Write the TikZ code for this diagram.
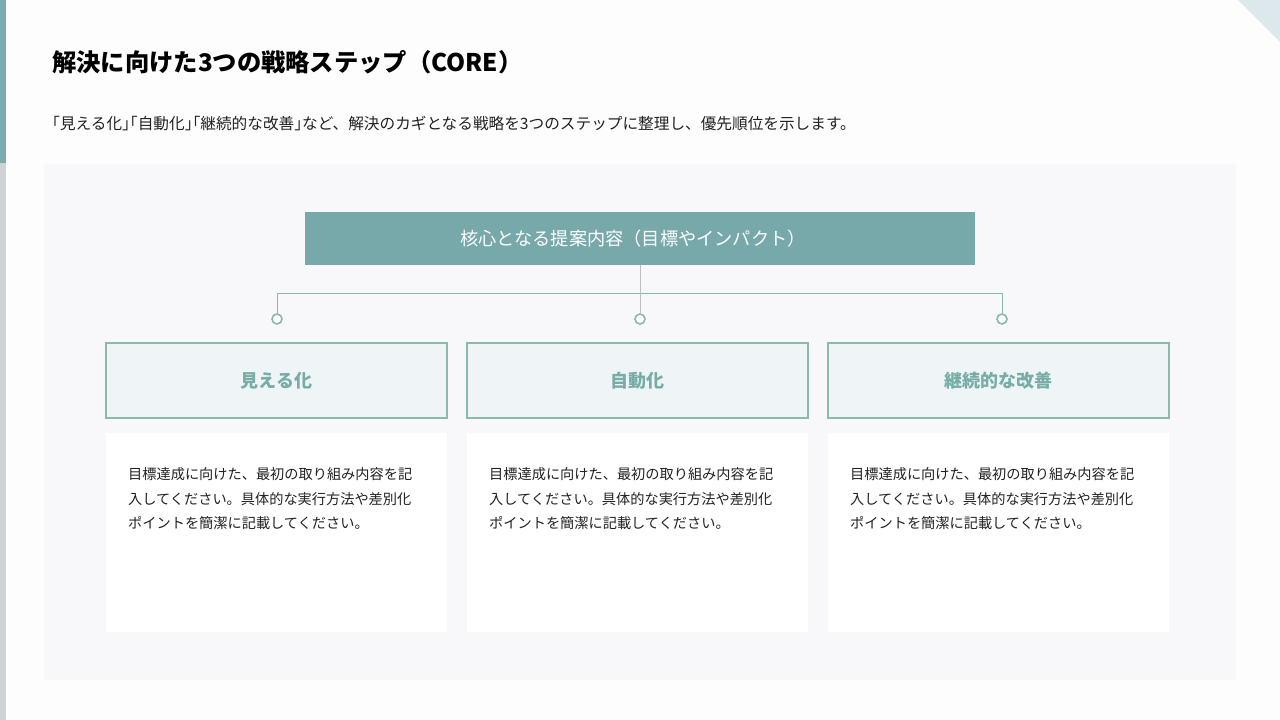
\documentclass[tikz,border=0pt]{standalone}
\usepackage{fontspec}
\setmainfont{Noto Sans CJK JP}
\newfontfamily\halffont{Noto Sans CJK JP}[RawFeature=+halt]
\newcommand{\hbr}[1]{{\halffont #1}}
\definecolor{pagebg}{HTML}{FDFDFD}
\definecolor{panelbg}{HTML}{F8F7FA}
\definecolor{barteal}{HTML}{7DA9B3}
\definecolor{bargrey}{HTML}{D0D3D6}
\definecolor{cornertri}{HTML}{DCE8EB}
\definecolor{topbox}{HTML}{77A9AB}
\definecolor{hdrline}{HTML}{8BB9AE}
\definecolor{hdrfill}{HTML}{EFF5F7}
\definecolor{hdrtext}{HTML}{78ADA7}
\definecolor{bodytext}{HTML}{222222}
\definecolor{connline}{HTML}{8AB8AC}
\definecolor{stemline}{HTML}{BBBDBF}
\tikzset{
  hdrbox/.style={draw=hdrline, line width=1.3pt, fill=hdrfill, minimum width=341pt, minimum height=75pt, inner sep=0pt,
    text=hdrtext, font=\fontsize{18pt}{21pt}\selectfont\bfseries},
  bodybox/.style={fill=white, minimum width=341pt, minimum height=199pt, inner sep=0pt},
  bodytxt/.style={anchor=north west, inner sep=0pt, align=left, text=bodytext,
    font=\fontsize{14.2pt}{24.5pt}\selectfont},
  dotc/.style={circle, draw=connline, line width=1.6pt, fill=white, minimum size=10pt, inner sep=0pt},
  conn/.style={draw=connline, line width=1pt},
}
\begin{document}
\begin{tikzpicture}[x=1pt,y=-1pt]
\useasboundingbox (0,0) rectangle (1280,720);
\fill[pagebg] (0,0) rectangle (1280,720);
% left bar
\fill[barteal] (0,0) rectangle (6,163);
\fill[bargrey] (0,163) rectangle (6,720);
% corner triangle
\fill[cornertri] (1238,0) -- (1280,0) -- (1280,42) -- cycle;
% title
\node[anchor=west, inner sep=0pt, font=\fontsize{24.3pt}{28pt}\selectfont\bfseries, text=black] (title) at (52,62) {解決に向けた3つの戦略ステップ（CORE）};
\node[anchor=west, inner sep=0pt, font=\fontsize{15.65pt}{18pt}\selectfont, text=bodytext] (subtitle) at (52,124) {\hbr{「}見える化\hbr{」「}自動化\hbr{」「}継続的な改善\hbr{」}など、解決のカギとなる戦略を3つのステップに整理し、優先順位を示します。};
% panel
\fill[panelbg] (44,164) rectangle (1236,680);
% top box
\node[fill=topbox, minimum width=670pt, minimum height=53pt, inner sep=0pt] (core) at (640,238.5) {};
\node[inner sep=0pt, text=white, font=\fontsize{18.2pt}{21pt}\selectfont] (coretext) at (633,238.5) {核心となる提案内容（目標やインパクト）};
% header boxes
\node[hdrbox] (h1) at (276.5,380.5) {見える化};
\node[hdrbox] (h2) at (637.5,380.5) {自動化};
\node[hdrbox] (h3) at (998.5,380.5) {継続的な改善};
% body boxes
\node[bodybox] (b1) at (276.5,532.5) {};
\node[bodybox] (b2) at (637.5,532.5) {};
\node[bodybox] (b3) at (998.5,532.5) {};
\node[bodytxt] (t1) at (128,467.5) {目標達成に向けた、最初の取り組み内容を記\\入してください。具体的な実行方法や差別化\\ポイントを簡潔に記載してください。};
\node[bodytxt] (t2) at (489,467.5) {目標達成に向けた、最初の取り組み内容を記\\入してください。具体的な実行方法や差別化\\ポイントを簡潔に記載してください。};
\node[bodytxt] (t3) at (850,467.5) {目標達成に向けた、最初の取り組み内容を記\\入してください。具体的な実行方法や差別化\\ポイントを簡潔に記載してください。};
% connectors
\coordinate (jl) at (277,293);
\coordinate (jr) at (1002,293);
\node[dotc] (d1) at (277,319) {};
\node[dotc] (d2) at (640,319) {};
\node[dotc] (d3) at (1002,319) {};
\draw[conn] (jl) -- (jr);
\draw[conn] (jl) -- (d1.north);
\draw[conn] (jr) -- (d3.north);
\draw[draw=stemline, line width=1pt] (core.south) -- (d2.north);
\end{tikzpicture}
\end{document}
